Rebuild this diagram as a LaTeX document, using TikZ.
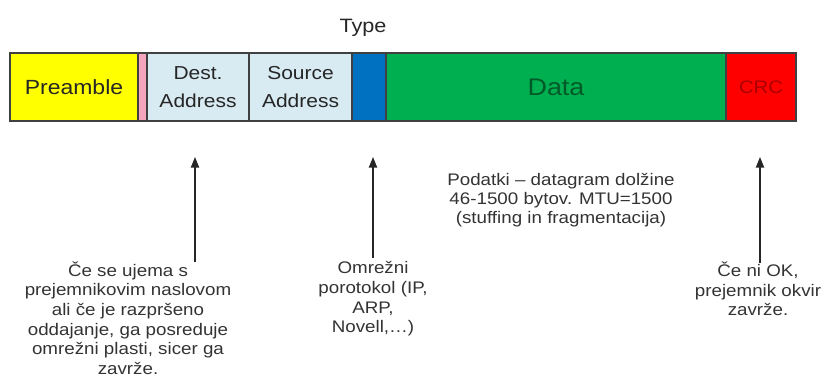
\documentclass[tikz,border=0pt]{standalone}
\usepackage{fontspec}
\setmainfont[FakeStretch=1.12]{Liberation Sans}
\usepackage{tikz}
\usetikzlibrary{positioning,arrows.meta}
\definecolor{fieldYellow}{RGB}{255, 255, 0}
\definecolor{fieldPink}{RGB}{245, 165, 190}
\definecolor{fieldLight}{RGB}{216, 234, 242}
\definecolor{fieldBlue}{RGB}{0, 112, 192}
\definecolor{fieldGreen}{RGB}{0, 176, 80}
\definecolor{fieldRed}{RGB}{255, 0, 0}
\definecolor{dataText}{RGB}{0, 90, 40}
\definecolor{crcText}{RGB}{170, 0, 0}

\begin{document}
\begin{tikzpicture}[x=0.03cm, y=-0.03cm,
    field/.style={draw=black!75, line width=1pt, minimum height=2.04cm,
      inner sep=0pt, outer sep=0pt, anchor=north west, align=center, text=black!85},
    note/.style={align=center, inner sep=0pt, text=black!80,
      font=\fontsize{14.3}{16.8}\selectfont},
    pointer/.style={-{Triangle[length=9pt, width=7pt]}, line width=1.1pt, black!85}]
      \useasboundingbox (0,0) rectangle (827,390);

      % Frame fields, left to right
      \node[field, fill=fieldYellow, minimum width=3.84cm,
        font=\fontsize{17.5}{21}\selectfont] (pre) at (10,53) {Preamble};
      \node[field, fill=fieldPink, minimum width=0.27cm] (sfd) at (pre.north east) {};
      \node[field, fill=fieldLight, minimum width=3.06cm,
        font=\fontsize{16}{23.8}\selectfont] (dest) at (sfd.north east) {Dest.\\Address};
      \node[field, fill=fieldLight, minimum width=3.09cm,
        font=\fontsize{16}{23.8}\selectfont] (src) at (dest.north east) {Source\\Address};
      \node[field, fill=fieldBlue, minimum width=1.02cm] (type) at (src.north east) {};
      \node[field, fill=fieldGreen, minimum width=10.2cm, text=dataText,
        font=\fontsize{20.5}{25}\selectfont] (data) at (type.north east) {Data};
      \node[field, fill=fieldRed, minimum width=2.1cm, text=crcText,
        font=\fontsize{15.5}{18}\selectfont] (crc) at (data.north east) {CRC};

      % Label above the type field
      \node[text=black!85, font=\fontsize{16.5}{20}\selectfont] (typelbl) at (363,28) {Type};

      % Notes under the frame
      \node[note] (destnote) at (128,318) {Če se ujema s\\prejemnikovim naslovom\\ali če je razpršeno\\oddajanje, ga posreduje\\omrežni plasti, sicer ga\\zavrže.};
      \node[note] (typenote) at (373,299) {Omrežni\\porotokol (IP,\\ARP,\\Novell,…)};
      \node[note, font=\fontsize{14.3}{16.2}\selectfont] (datanote) at (561,200) {Podatki – datagram dolžine\\46-1500 bytov. MTU=1500\\(stuffing in fragmentacija)};
      \node[note] (crcnote) at (758,289) {Če ni OK,\\prejemnik okvir\\zavrže.};

      % Arrows up to the fields
      \coordinate (destfoot) at (195,262);
      \coordinate (desthead) at (195,157);
      \coordinate (typefoot) at (373,258);
      \coordinate (typehead) at (373,157);
      \coordinate (crcfoot) at (760,263);
      \coordinate (crchead) at (760,157);
      \draw[pointer] (destfoot) -- (desthead);
      \draw[pointer] (typefoot) -- (typehead);
      \draw[pointer] (crcfoot) -- (crchead);
    \end{tikzpicture}
\end{document}
